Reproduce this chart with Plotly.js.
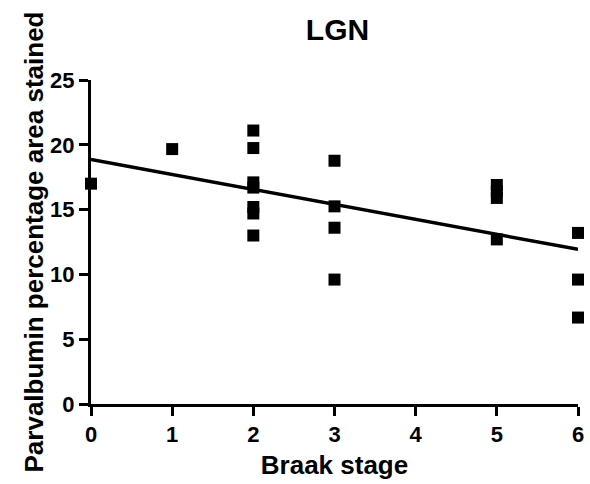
<!DOCTYPE html>
<html><head><meta charset="utf-8">
<script src="https://cdn.plot.ly/plotly-3.0.1.min.js"></script>
<style>html,body{margin:0;padding:0;background:#fff}#c{width:590px;height:484px}</style>
</head><body><div id="c"></div>
<script>
const braakStage = [0, 1, 2, 2, 2, 2, 2, 2, 2, 3, 3, 3, 3, 5, 5, 5, 5, 6, 6, 6];
const parvalbumin = [17.0, 19.67, 21.1, 19.75, 17.1, 16.7, 15.2, 14.7, 13.0, 18.77, 15.25, 13.6, 9.6, 16.9, 16.4, 15.9, 12.7, 13.2, 9.6, 6.67];
const fitX = [0, 6];
const fitY = [18.87, 11.93];
const xTicks = [0, 1, 2, 3, 4, 5, 6];
const yTicks = [0, 5, 10, 15, 20, 25];

const font = 'Liberation Sans, Arial, sans-serif';
const traces = [
  {x: braakStage, y: parvalbumin, type: 'scatter', mode: 'markers', cliponaxis: false,
   marker: {symbol: 'square', size: 12, color: '#000'}, showlegend: false},
  {x: fitX, y: fitY, type: 'scatter', mode: 'lines', cliponaxis: false,
   line: {color: '#000', width: 3.5}, showlegend: false}
];
const layout = {
  width: 590, height: 484,
  margin: {l: 91, r: 12, t: 80, b: 80},
  paper_bgcolor: '#fff', plot_bgcolor: '#fff',
  font: {family: font, color: '#000'},
  title: {text: '<b>LGN</b>', font: {size: 30, family: font, color: '#000'}, x: 0.572, xanchor: 'center', y: 0.94, yanchor: 'middle'},
  xaxis: {range: [0, 6], tickvals: xTicks, ticktext: xTicks.map(v => '<b>' + v + '</b>'),
    showgrid: false, zeroline: false, showline: true, linewidth: 3, linecolor: '#000',
    ticks: 'outside', ticklen: 9, tickwidth: 3, tickcolor: '#000',
    tickfont: {size: 22, family: font, color: '#000'},
    title: {text: '<b>Braak stage</b>', font: {size: 26, family: font, color: '#000'}, standoff: 10}},
  yaxis: {range: [0, 25], tickvals: yTicks, ticktext: yTicks.map(v => '<b>' + v + '</b>'),
    showgrid: false, zeroline: false, showline: true, linewidth: 3, linecolor: '#000',
    ticks: 'outside', ticklen: 9, tickwidth: 3, tickcolor: '#000',
    tickfont: {size: 22, family: font, color: '#000'},
    title: {text: '<b>Parvalbumin percentage area stained</b>', font: {size: 26, family: font, color: '#000'}, standoff: 0}}
};
Plotly.newPlot('c', traces, layout, {displayModeBar: false, staticPlot: true});
</script></body></html>
